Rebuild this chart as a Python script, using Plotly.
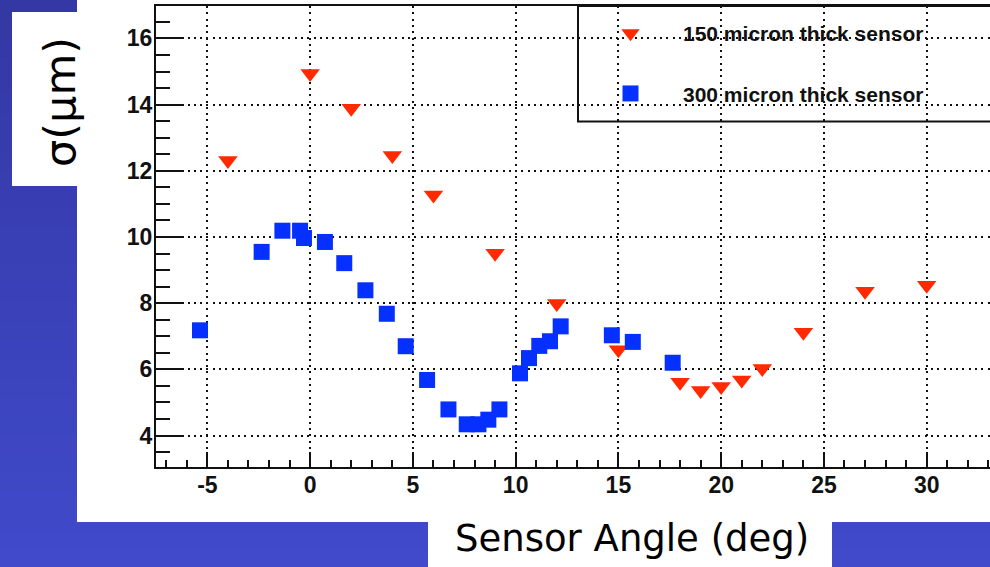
import plotly.graph_objects as go

# ---- data ----
angle_150 = [-4, 0, 2, 4, 6, 9, 12, 15, 18, 19, 20, 21, 22, 24, 27, 30]
sigma_150 = [12.31, 14.94, 13.89, 12.46, 11.27, 9.51, 7.99, 6.59, 5.61, 5.36,
             5.48, 5.68, 6.03, 7.12, 8.36, 8.54]

angle_300 = [-5.36, -2.36, -1.35, -0.49, -0.30, 0.72, 1.66, 2.69, 3.73, 4.65,
             5.69, 6.73, 7.62, 8.19, 8.67, 9.21, 10.21, 10.65, 11.15, 11.67,
             12.19, 14.68, 15.70, 17.64]
sigma_300 = [7.18, 9.55, 10.19, 10.19, 9.97, 9.85, 9.21, 8.39, 7.68, 6.70,
             5.68, 4.79, 4.34, 4.34, 4.48, 4.79, 5.88, 6.34, 6.71, 6.85,
             7.30, 7.03, 6.83, 6.20]

x_tickvals = [-5, 0, 5, 10, 15, 20, 25, 30]
x_ticktext = ["-5", "0", "5", "10", "15", "20", "25", "30"]
y_tickvals = [4, 6, 8, 10, 12, 14, 16]
y_ticktext = ["4", "6", "8", "10", "12", "14", "16"]

name_150 = "150 micron thick sensor"
name_300 = "300 micron thick sensor"
x_title = "Sensor Angle (deg)"
y_title = "σ(μm)"

# ---- geometry helpers (pixel -> paper) ----
W, H = 990, 567
ML, MR, MT, MB = 156, 0, 6, 100
PW, PH = W - ML - MR, H - MT - MB


def xp(px):
    return (px - ML) / PW


def yp(py):
    return (H - MB - py) / PH


fig = go.Figure()
fig.add_trace(go.Scatter(
    x=angle_150, y=sigma_150, mode="markers", name=name_150,
    legendgroup="a",
    marker=dict(symbol="triangle-down", size=17, color="#ff2a00",
                line=dict(width=0)),
))
fig.add_trace(go.Scatter(
    x=angle_300, y=sigma_300, mode="markers", name=name_300,
    legendgroup="b",
    marker=dict(symbol="square", size=16, color="#0530ff",
                line=dict(width=0)),
))

shapes = []
# vertical blue gradient background
n = 30
c0 = (52, 56, 164)
c1 = (64, 74, 202)
for i in range(n):
    t = i / (n - 1)
    col = tuple(round(c0[k] + (c1[k] - c0[k]) * t) for k in range(3))
    shapes.append(dict(type="rect", xref="paper", yref="paper",
                       x0=xp(-5), x1=xp(W + 5),
                       y0=yp(H * (i + 1) / n + 1), y1=yp(H * i / n),
                       fillcolor="rgb(%d,%d,%d)" % col, line=dict(width=0),
                       layer="below"))
# white panels
for (a, b, c, d) in [(77, 0, W + 5, 522), (12, 12, 78, 186), (428, 521, 832, H + 5)]:
    shapes.append(dict(type="rect", xref="paper", yref="paper",
                       x0=xp(a), x1=xp(c), y0=yp(d), y1=yp(b),
                       fillcolor="white", line=dict(width=0), layer="below"))
# legend frame (transparent)
shapes.append(dict(type="rect", xref="paper", yref="paper",
                   x0=xp(578), x1=xp(W + 20), y0=yp(121.5), y1=yp(6),
                   fillcolor="rgba(0,0,0,0)", line=dict(color="#111", width=2),
                   layer="above"))

tickfont = dict(family="Liberation Sans", size=23, color="#111", weight="bold")
grid = dict(showgrid=True, gridcolor="#111", gridwidth=1.6, griddash="2px,4.3px")

fig.update_layout(
    width=W, height=H, autosize=False,
    margin=dict(l=ML, r=MR, t=MT, b=MB, pad=0),
    paper_bgcolor="rgb(58,64,184)",
    plot_bgcolor="rgba(0,0,0,0)",
    showlegend=True,
    legend=dict(x=xp(578), xanchor="left", y=yp(13), yanchor="top",
                bgcolor="rgba(0,0,0,0)", borderwidth=0,
                font=dict(family="Liberation Sans", size=21, color="#111",
                          weight="bold"),
                itemwidth=95, tracegroupgap=30),
    xaxis=dict(range=[-7.5, 33.08], tickmode="array", tickvals=x_tickvals,
               ticktext=x_ticktext, ticks="inside", ticklabelstandoff=-4,
               ticklen=15, tickwidth=2, tickcolor="#111",
               showline=True, linewidth=2, linecolor="#111", mirror=True,
               zeroline=False, tickfont=tickfont,
               minor=dict(dtick=1, tick0=0, ticks="inside", ticklen=7,
                          tickwidth=2, tickcolor="#111", showgrid=False),
               **grid),
    yaxis=dict(range=[3.05, 16.98], tickmode="array", tickvals=y_tickvals,
               ticktext=y_ticktext, ticks="inside", ticklabelstandoff=-3,
               ticklen=28, tickwidth=2, tickcolor="#111",
               showline=True, linewidth=2, linecolor="#111", mirror=False,
               zeroline=False, tickfont=tickfont,
               minor=dict(dtick=0.5, tick0=0, ticks="inside", ticklen=14,
                          tickwidth=2, tickcolor="#111", showgrid=False),
               **grid),
    shapes=shapes,
    annotations=[
        dict(text=x_title, xref="paper", yref="paper", x=xp(631.5), y=yp(538),
             xanchor="center", yanchor="middle", showarrow=False,
             font=dict(family="DejaVu Sans", size=37, color="black")),
        dict(text=y_title, xref="paper", yref="paper", x=xp(60), y=yp(102),
             xanchor="center", yanchor="middle", showarrow=False, textangle=-90,
             font=dict(family="DejaVu Sans", size=43, color="black")),
    ],
)

fig.write_html("out.html")
